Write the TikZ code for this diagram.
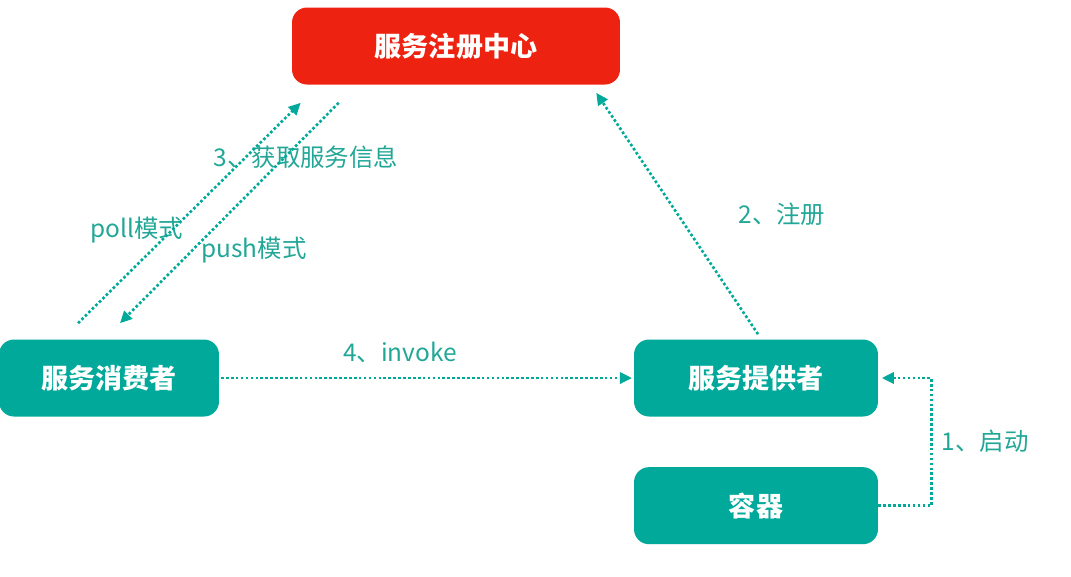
\documentclass[tikz,border=0pt]{standalone}
\usepackage{fontspec}
\setmainfont{Noto Sans CJK SC}
\usepackage{tikz}
\usetikzlibrary{arrows.meta, positioning, calc}
\definecolor{regred}{HTML}{EE2211}
\definecolor{boxteal}{HTML}{00A99A}
\definecolor{lblteal}{HTML}{22A797}

\begin{document}
\begin{tikzpicture}[x=0.02cm, y=-0.02cm,
    box/.style={rectangle, rounded corners=8.5pt, fill=boxteal, text=white,
                font=\fontsize{15.4pt}{18pt}\selectfont\bfseries,
                minimum width=4.4cm, minimum height=1.54cm},
    lbl/.style={text=lblteal, font=\fontsize{13.9pt}{16pt}\selectfont},
    arrow/.style={-{Triangle[length=6.8pt,width=6.4pt]}, draw=boxteal,
                  line width=1.5pt, dash pattern=on 1.5pt off 1.3pt}
]
    \useasboundingbox (0,0) rectangle (1071,576);

    \node[box, fill=regred, minimum width=6.56cm] (register) at (456,46) {服务注册中心};
    \node[box] (consumer) at (109,378) {服务消费者};
    \node[box, minimum width=4.88cm] (provider) at (756,378) {服务提供者};
    \node[box, minimum width=4.88cm, below=1cm of provider] (container) {容器};

    \node[lbl] (getinfo) at (306,157) {3、获取服务信息};
    \node[lbl] (poll) at (137,230) {poll模式};
    \node[lbl] (push) at (254,250) {push模式};
    \node[lbl] (regist) at (782,214) {2、注册};
    \node[lbl] (invoke) at (400,352) {4、invoke};
    \node[lbl] (start) at (985,441) {1、启动};

    \draw[arrow] ($(consumer.north)+(-31,-16)$) -- ($(register.south west)+(9,18)$);
    \draw[arrow] ($(register.south west)+(47,18)$) -- ($(consumer.north)+(11,-16)$);
    \draw[arrow] ($(provider.north)+(2,-5)$) -- ($(register.south east)+(-24,8)$);
    \draw[arrow, shorten <=1pt, shorten >=1pt] (consumer.east) -- (provider.west);
    \draw[arrow, shorten >=2pt] (container.east) -- ++(53,0) |- (provider.east);
\end{tikzpicture}
\end{document}
